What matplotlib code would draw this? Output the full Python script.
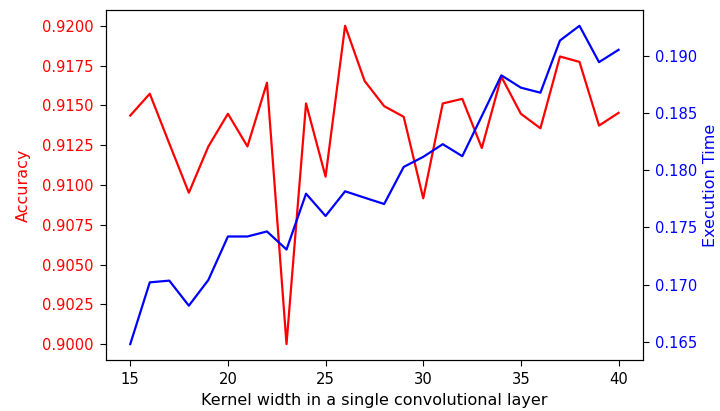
import matplotlib
matplotlib.use("Agg")
import matplotlib.pyplot as plt
from matplotlib.ticker import FormatStrFormatter

# kernel widths tried for the single conv layer
kernel_width = list(range(15, 41))

accuracy = [0.91436, 0.91573, 0.91260, 0.90951, 0.91242, 0.91447, 0.91242,
            0.91642, 0.90000, 0.91512, 0.91052, 0.92000, 0.91653, 0.91495,
            0.91428, 0.90916, 0.91512, 0.91541, 0.91232, 0.91680, 0.91447,
            0.91356, 0.91807, 0.91773, 0.91373, 0.91453]

exec_time = [0.16480, 0.17020, 0.17035, 0.16816, 0.17041, 0.17421, 0.17421,
             0.17465, 0.17307, 0.17795, 0.17600, 0.17816, 0.17760, 0.17705,
             0.18029, 0.18117, 0.18228, 0.18123, 0.18474, 0.18830, 0.18722,
             0.18678, 0.19134, 0.19263, 0.18945, 0.19053]

tick_kw = dict(labelsize=10.6, length=4.3, pad=4.5)

fig, ax1 = plt.subplots(figsize=(7.2, 4.11), dpi=100)
fig.subplots_adjust(left=0.147, right=0.893, top=0.976, bottom=0.124)

ax1.plot(kernel_width, accuracy, color="red", linewidth=1.6)
ax1.set_xlabel("Kernel width in a single convolutional layer", fontsize=11.5, labelpad=4)
ax1.set_ylabel("Accuracy", color="red", fontsize=11.5, labelpad=8)
ax1.tick_params(axis="both", **tick_kw)
ax1.tick_params(axis="y", labelcolor="red")
ax1.yaxis.set_major_formatter(FormatStrFormatter("%.4f"))

ax2 = ax1.twinx()
ax2.plot(kernel_width, exec_time, color="blue", linewidth=1.6)
ax2.set_ylabel("Execution Time", color="blue", fontsize=11.5, labelpad=4)
ax2.tick_params(axis="y", labelcolor="blue", **tick_kw)

fig.savefig("out.png", dpi=100)
